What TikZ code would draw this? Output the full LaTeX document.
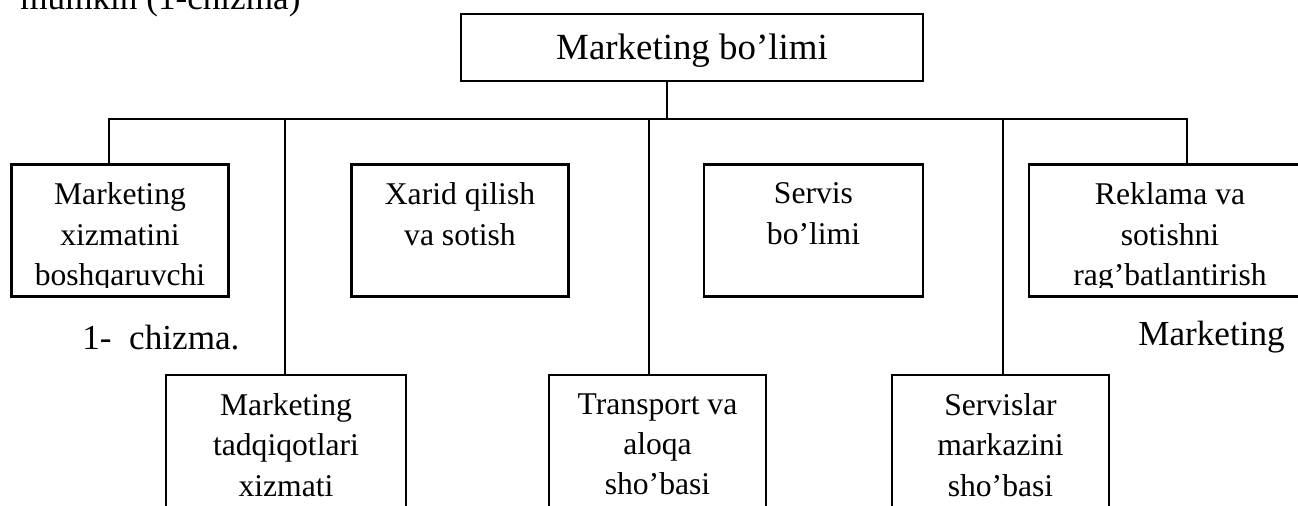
\documentclass[tikz,border=0pt]{standalone}
\usepackage{fontspec}
\setmainfont{Liberation Serif}
\begin{document}
\begin{tikzpicture}
\tikzset{
  unit/.style={draw, line width=1.2pt, inner sep=0pt, minimum width=4.34cm, minimum height=2.64cm},
  unittext/.style={anchor=north, align=center, inner sep=0pt, font=\fontsize{18}{23}\selectfont, execute at begin node=\strut},
  bigtext/.style={anchor=base west, inner sep=0pt, font=\fontsize{20}{24}\selectfont}
}
% page size
\useasboundingbox (0,0) rectangle (25.96,10.1);

% the line of text above the chart
\node[bigtext] (toptext) at (0.40,9.914) {mumkin (1-chizma)};

% head box
\node[unit, minimum width=9.24cm, minimum height=1.34cm] (head) at (13.84,9.15) {};
\node[anchor=base, inner sep=0pt, font=\fontsize{21}{25}\selectfont] (headtext) at (13.84,8.9) {Marketing bo’limi};

% upper row of boxes
\node[unit] (mxb) at (2.40,5.49) {};
\node[unit] (xqs) at (9.20,5.49) {};
\node[unit, minimum width=4.38cm] (sb) at (16.27,5.49) {};
\node[unit, minimum width=5.64cm] (rsr) at (23.40,5.49) {};

% lower row of boxes
\node[unit, minimum width=4.80cm, minimum height=2.8cm] (mtx) at (5.72,1.20) {};
\node[unit, minimum height=2.8cm] (tas) at (13.15,1.20) {};
\node[unit, minimum height=2.8cm] (sms) at (20.01,1.20) {};

% texts of the upper row (last line cut off as in the original)
\begin{scope}
\clip (0,4.36) rectangle (25.96,10.1);
\node[unittext, yshift=-0.38cm] (mxbtext) at (mxb.north) {Marketing\\xizmatini\\boshqaruvchi};
\node[unittext, yshift=-0.38cm] (xqstext) at (xqs.north) {Xarid qilish\\va sotish};
\node[unittext, yshift=-0.38cm] (sbtext) at (sb.north) {Servis\\bo’limi};
\node[unittext, yshift=-0.38cm] (rsrtext) at (rsr.north) {Reklama va\\sotishni\\rag’batlantirish};
\end{scope}

% texts of the lower row
\node[unittext, yshift=-0.38cm] (mtxtext) at (mtx.north) {Marketing\\tadqiqotlari\\xizmati};
\node[unittext, yshift=-0.38cm] (tastext) at (tas.north) {Transport va\\aloqa\\sho’basi};
\node[unittext, yshift=-0.38cm] (smstext) at (sms.north) {Servislar\\markazini\\sho’basi};

% loose captions
\node[bigtext] (caption) at (1.64,3.12) {1-~~chizma.};
\node[bigtext] (mright) at (22.76,3.20) {Marketing};

% connectors
\coordinate (d0) at (13.34,7.72);
\coordinate (d1) at (2.18,7.72);
\coordinate (d2) at (5.70,7.72);
\coordinate (d3) at (12.98,7.72);
\coordinate (d4) at (20.06,7.72);
\coordinate (d5) at (23.74,7.72);
\draw[line width=1.2pt] (d0 |- head.south) -- (d0);
\draw[line width=1.2pt] (d1 |- mxb.north) -- (d1) -- (d5) -- (d5 |- rsr.north);
\draw[line width=1.2pt] (d2) -- (d2 |- mtx.north);
\draw[line width=1.2pt] (d3) -- (d3 |- tas.north);
\draw[line width=1.2pt] (d4) -- (d4 |- sms.north);
\end{tikzpicture}
\end{document}
